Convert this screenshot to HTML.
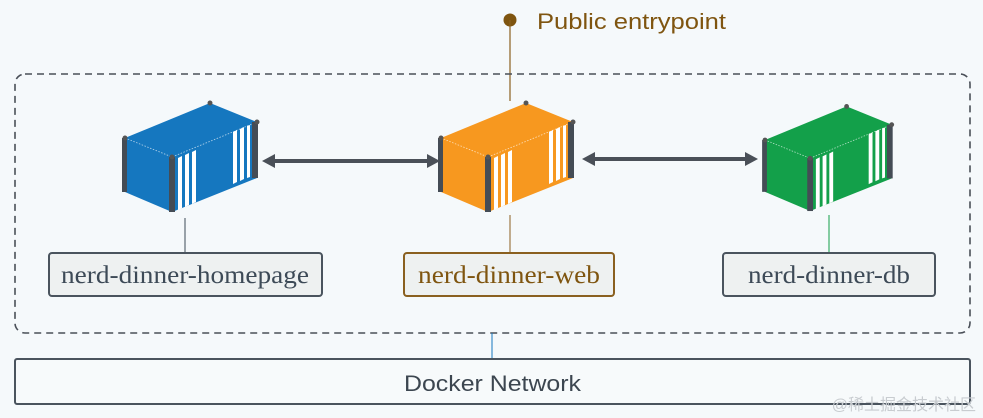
<!DOCTYPE html>
<html><head><meta charset="utf-8"><style>
html,body{margin:0;padding:0;background:#f5f9fb;}
svg{display:block;}
</style></head><body>
<svg width="983" height="418" viewBox="0 0 983 418" xmlns="http://www.w3.org/2000/svg">
<defs>
<g id="box">
  <polygon points="0,0 85,-35 132,-16 132,40 47,74 0,54" fill="currentColor"/>
  <polyline points="0,0 47,19 132,-16" fill="none" stroke="#ffffff" stroke-width="0.8" stroke-dasharray="1.5,1.5" opacity="0.7"/>
  <rect x="-3" y="0" width="5" height="54" fill="#444c55"/>
  <rect x="127" y="-16" width="6" height="56" fill="#444c55"/>
  <rect x="44" y="19" width="6" height="55" fill="#444c55"/>
  <polygon points="53,20 57,18 57,70 53,72" fill="#fff"/>
  <polygon points="60,17 64,15 64,67 60,69" fill="#fff"/>
  <polygon points="67,14 71,12 71,64 67,66" fill="#fff"/>
  <polygon points="108,-6 112,-8 112,44 108,46" fill="#fff"/>
  <polygon points="115,-9 119,-11 119,41 115,43" fill="#fff"/>
  <polygon points="122,-12 125,-13 125,39 122,40" fill="#fff"/>
  <circle cx="0" cy="0" r="2.5" fill="#555"/>
  <circle cx="85" cy="-35" r="2.5" fill="#555"/>
  <circle cx="132" cy="-16" r="2.5" fill="#555"/>
  <circle cx="47" cy="19" r="2.5" fill="#555"/>
</g>
</defs>
<circle cx="510" cy="20" r="6.5" fill="#7f5510"/>
<line x1="510" y1="20" x2="510" y2="101" stroke="#8a6020" stroke-width="1.2"/>
<text x="537" y="29" font-family="Liberation Sans, sans-serif" font-size="22" fill="#7f5510" textLength="189" lengthAdjust="spacingAndGlyphs">Public entrypoint</text>
<rect x="15" y="74" width="955" height="259" rx="10" fill="none" stroke="#4a5058" stroke-width="1.6" stroke-dasharray="7,5"/>
<g transform="translate(125,138)" color="#1577bf"><use href="#box"/></g>
<g transform="translate(441,138)" color="#f7981f"><use href="#box"/></g>
<g transform="translate(765,140) scale(0.96)" color="#13a04a"><use href="#box"/></g>
<g fill="#4a5058" stroke="#4a5058">
  <line x1="270" y1="161" x2="432" y2="161" stroke-width="4"/>
  <polygon points="262,161 275,154 275,168" stroke="none"/>
  <polygon points="440,161 427,154 427,168" stroke="none"/>
  <line x1="590" y1="159" x2="750" y2="159" stroke-width="4"/>
  <polygon points="582,159 595,152 595,166" stroke="none"/>
  <polygon points="758,159 745,152 745,166" stroke="none"/>
</g>
<line x1="185" y1="218" x2="185" y2="253" stroke="#3d4a57" stroke-width="1"/>
<line x1="510" y1="215" x2="510" y2="253" stroke="#8a6020" stroke-width="1"/>
<line x1="829" y1="215" x2="829" y2="253" stroke="#13a04a" stroke-width="1"/>
<line x1="492" y1="333" x2="492" y2="359" stroke="#1577bf" stroke-width="1"/>
<rect x="49" y="253" width="273" height="43" rx="3" fill="#eef1f1" stroke="#4a545e" stroke-width="2"/>
<text x="61" y="283" font-family="Liberation Serif, serif" font-size="25" fill="#3d4a57" textLength="248" lengthAdjust="spacingAndGlyphs">nerd-dinner-homepage</text>
<rect x="404" y="253" width="210" height="43" rx="3" fill="#eef1f1" stroke="#8a6020" stroke-width="2"/>
<text x="418" y="283" font-family="Liberation Serif, serif" font-size="25" fill="#7f5510" textLength="182" lengthAdjust="spacingAndGlyphs">nerd-dinner-web</text>
<rect x="723" y="253" width="212" height="43" rx="3" fill="#eef1f1" stroke="#4a545e" stroke-width="2"/>
<text x="748" y="283" font-family="Liberation Serif, serif" font-size="25" fill="#3d4a57" textLength="162" lengthAdjust="spacingAndGlyphs">nerd-dinner-db</text>
<rect x="15" y="359" width="955" height="45" rx="2" fill="#f7fafb" stroke="#4a545e" stroke-width="2"/>
<text x="404" y="391" font-family="Liberation Sans, sans-serif" font-size="22" fill="#3c4650" textLength="177" lengthAdjust="spacingAndGlyphs">Docker Network</text>
<text x="976" y="410" text-anchor="end" font-family="Liberation Sans, 'Noto Sans CJK SC', sans-serif" font-size="16" fill="#c8ccd0">@稀土掘金技术社区</text>
</svg>
</body></html>
